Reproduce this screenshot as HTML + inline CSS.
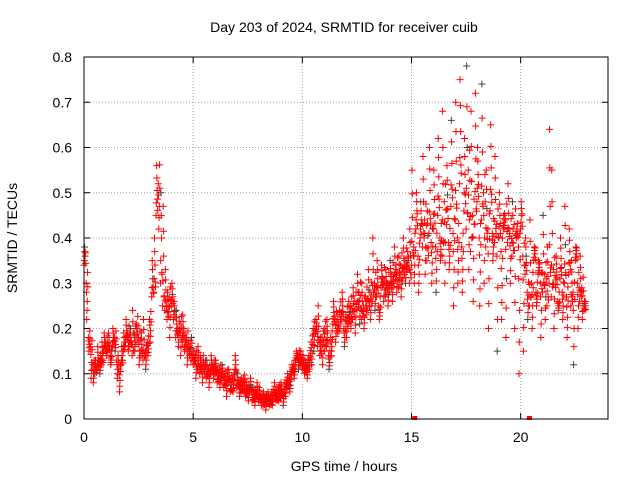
<!DOCTYPE html>
<html><head><meta charset="utf-8"><style>
body{margin:0;background:#fff;}
svg{display:block;font-family:"Liberation Sans",sans-serif;}
</style></head><body>
<svg id="chart" width="640" height="480">
<text x="344" y="32" text-anchor="middle" font-size="14">Day 203 of 2024, SRMTID for receiver cuib</text>
<text x="344" y="471" text-anchor="middle" font-size="14">GPS time / hours</text>
<text transform="translate(17,238) rotate(-90)" text-anchor="middle" font-size="14">SRMTID / TECUs</text>
<g id="grid"></g><g id="ticks"></g><g id="marks"></g>
<rect x="84" y="57" width="524" height="362" fill="none" stroke="#000"/>
</svg>
<script>
const xTicks=[0,5,10,15,20];
const yTicks=[0,0.1,0.2,0.3,0.4,0.5,0.6,0.7,0.8];
const yTickLabels=["0","0.1","0.2","0.3","0.4","0.5","0.6","0.7","0.8"];
const mainVals=[.34,.30,.18,.16,.12,.10,.11,.13,.12,.15,.17,.15,.14,.16,.18,.13,.11,.12,.15,.17,.19,.16,.14,.19,.21,.18,.14,.13,.15,.17,.22,.27,.28,.45,.52,.30,.25,.24,.22,.27,.25,.22,.18,.20,.21,.17,.15,.18,.16,.13,.12,.14,.11,.10,.13,.12,.09,.11,.10,.12,.10,.08,.11,.09,.07,.10,.08,.06,.09,.10,.07,.08,.06,.09,.05,.07,.06,.04,.06,.05,.04,.05,.03,.05,.04,.03,.06,.05,.04,.07,.05,.06,.08,.07,.09,.10,.12,.13,.14,.12,.11,.10,.12,.14,.17,.20,.19,.16,.14,.18,.20,.16,.14,.18,.21,.22,.19,.24,.22,.20,.23,.21,.25,.22,.26,.24,.28,.22,.25,.27,.24,.28,.26,.30,.27,.25,.29,.31,.27,.30,.28,.32,.30,.33,.29,.34,.31,.35,.33,.30,.34,.38,.42,.36,.40,.38,.44,.35,.41,.39,.42,.38,.45,.40,.36,.48,.43,.39,.47,.41,.44,.40,.52,.38,.46,.42,.55,.37,.45,.43,.48,.40,.44,.50,.38,.42,.46,.41,.39,.43,.40,.37,.42,.44,.39,.41,.36,.43,.40,.38,.42,.36,.32,.28,.25,.30,.35,.28,.32,.30,.28,.32,.25,.30,.27,.33,.29,.26,.31,.28,.30,.27,.32,.25,.28,.35,.30,.26,.29,.24];
const spreadVals=[.38,.22,.15,.09,.08,.13,.16,.10,.17,.19,.14,.19,.12,.20,.15,.09,.06,.16,.19,.22,.15,.20,.24,.15,.17,.12,.19,.22,.11,.14,.17,.35,.40,.56,.42,.50,.47,.33,.28,.18,.30,.26,.24,.16,.14,.23,.19,.12,.14,.18,.15,.09,.16,.14,.08,.10,.13,.07,.14,.09,.13,.11,.07,.12,.10,.05,.11,.09,.06,.14,.10,.05,.09,.06,.08,.04,.09,.07,.03,.08,.07,.03,.06,.02,.06,.05,.03,.08,.06,.04,.08,.03,.05,.10,.06,.12,.09,.15,.11,.15,.14,.13,.09,.11,.12,.15,.22,.25,.18,.12,.15,.22,.11,.14,.26,.17,.23,.20,.28,.16,.18,.26,.20,.29,.19,.32,.21,.30,.20,.23,.33,.22,.40,.24,.35,.22,.34,.26,.33,.25,.35,.26,.38,.28,.36,.27,.40,.30,.37,.42,.55,.30,.50,.28,.48,.58,.32,.46,.60,.30,.55,.28,.62,.35,.68,.30,.56,.33,.66,.25,.70,.30,.75,.28,.62,.78,.33,.68,.26,.72,.60,.25,.74,.30,.55,.20,.65,.35,.58,.15,.50,.22,.45,.18,.52,.30,.48,.20,.42,.10,.48,.15,.40,.22,.44,.20,.38,.25,.35,.18,.45,.22,.38,.64,.55,.20,.36,.24,.40,.22,.47,.18,.42,.35,.12,.38,.20,.36,.22,.26];
const zeroTimes=[15.15,20.4];
const tStep=0.1;
const NS="http://www.w3.org/2000/svg";
const X=t=>84+t*(524/24), Y=v=>419-v*(362/0.8);
const grid=document.getElementById('grid'),ticks=document.getElementById('ticks'),marks=document.getElementById('marks');
function mk(tag,attrs,parent){const e=document.createElementNS(NS,tag);for(const k in attrs)e.setAttribute(k,attrs[k]);parent.appendChild(e);return e;}
xTicks.forEach(t=>{
 const g=mk('line',{x1:X(t),x2:X(t),y1:57,y2:419,stroke:'#a0a0a0','stroke-dasharray':'1,2'},grid);
 
 
 mk('line',{x1:X(t),x2:X(t),y1:419,y2:413,stroke:'#000'},ticks);
 mk('line',{x1:X(t),x2:X(t),y1:57,y2:63,stroke:'#000'},ticks);
 const l=mk('text',{x:X(t),y:442,'text-anchor':'middle','font-size':14},ticks);l.textContent=t;
 
 
});
yTicks.forEach((v,i)=>{
 const g=mk('line',{x1:84,x2:608,y1:Y(v),y2:Y(v),stroke:'#a0a0a0','stroke-dasharray':'1,2'},grid);
 
 
 mk('line',{x1:84,x2:90,y1:Y(v),y2:Y(v),stroke:'#000'},ticks);
 mk('line',{x1:602,x2:608,y1:Y(v),y2:Y(v),stroke:'#000'},ticks);
 const l=mk('text',{x:72,y:Y(v)+5,'text-anchor':'end','font-size':14},ticks);l.textContent=yTickLabels[i];
 
 
});
function plus(t,v,col){
 const x=X(t),y=Y(v);
 const p=mk('path',{d:`M${x-3.5},${y}h7M${x},${y-3.5}v7`,stroke:col,'stroke-width':1},marks);
 
 
}
for(let i=0;i<mainVals.length;i++){
 const t=i*tStep;
 const a=mainVals[i],b=spreadVals[i];
 plus(t+0.025,b,i%7==0?'#444':'#ff0000');
 plus(t+0.05,(a+b)/2,i%9==4?'#444':'#ff0000');
 plus(t+0.0125,a*0.75+b*0.25,'#ff0000');
 plus(t+0.0375,a*0.25+b*0.75,'#ff0000');
 plus(t,a,'#ff0000');
 plus(t+0.075,a*0.9+b*0.1,'#ff0000');
 plus(t+0.0625,a*1.08,'#ff0000');
}
zeroTimes.forEach(t=>{
 const r=mk('rect',{x:X(t)-2.5,y:416,width:5,height:4,fill:'#ff0000'},marks);
 
 
});
</script>
</body></html>
